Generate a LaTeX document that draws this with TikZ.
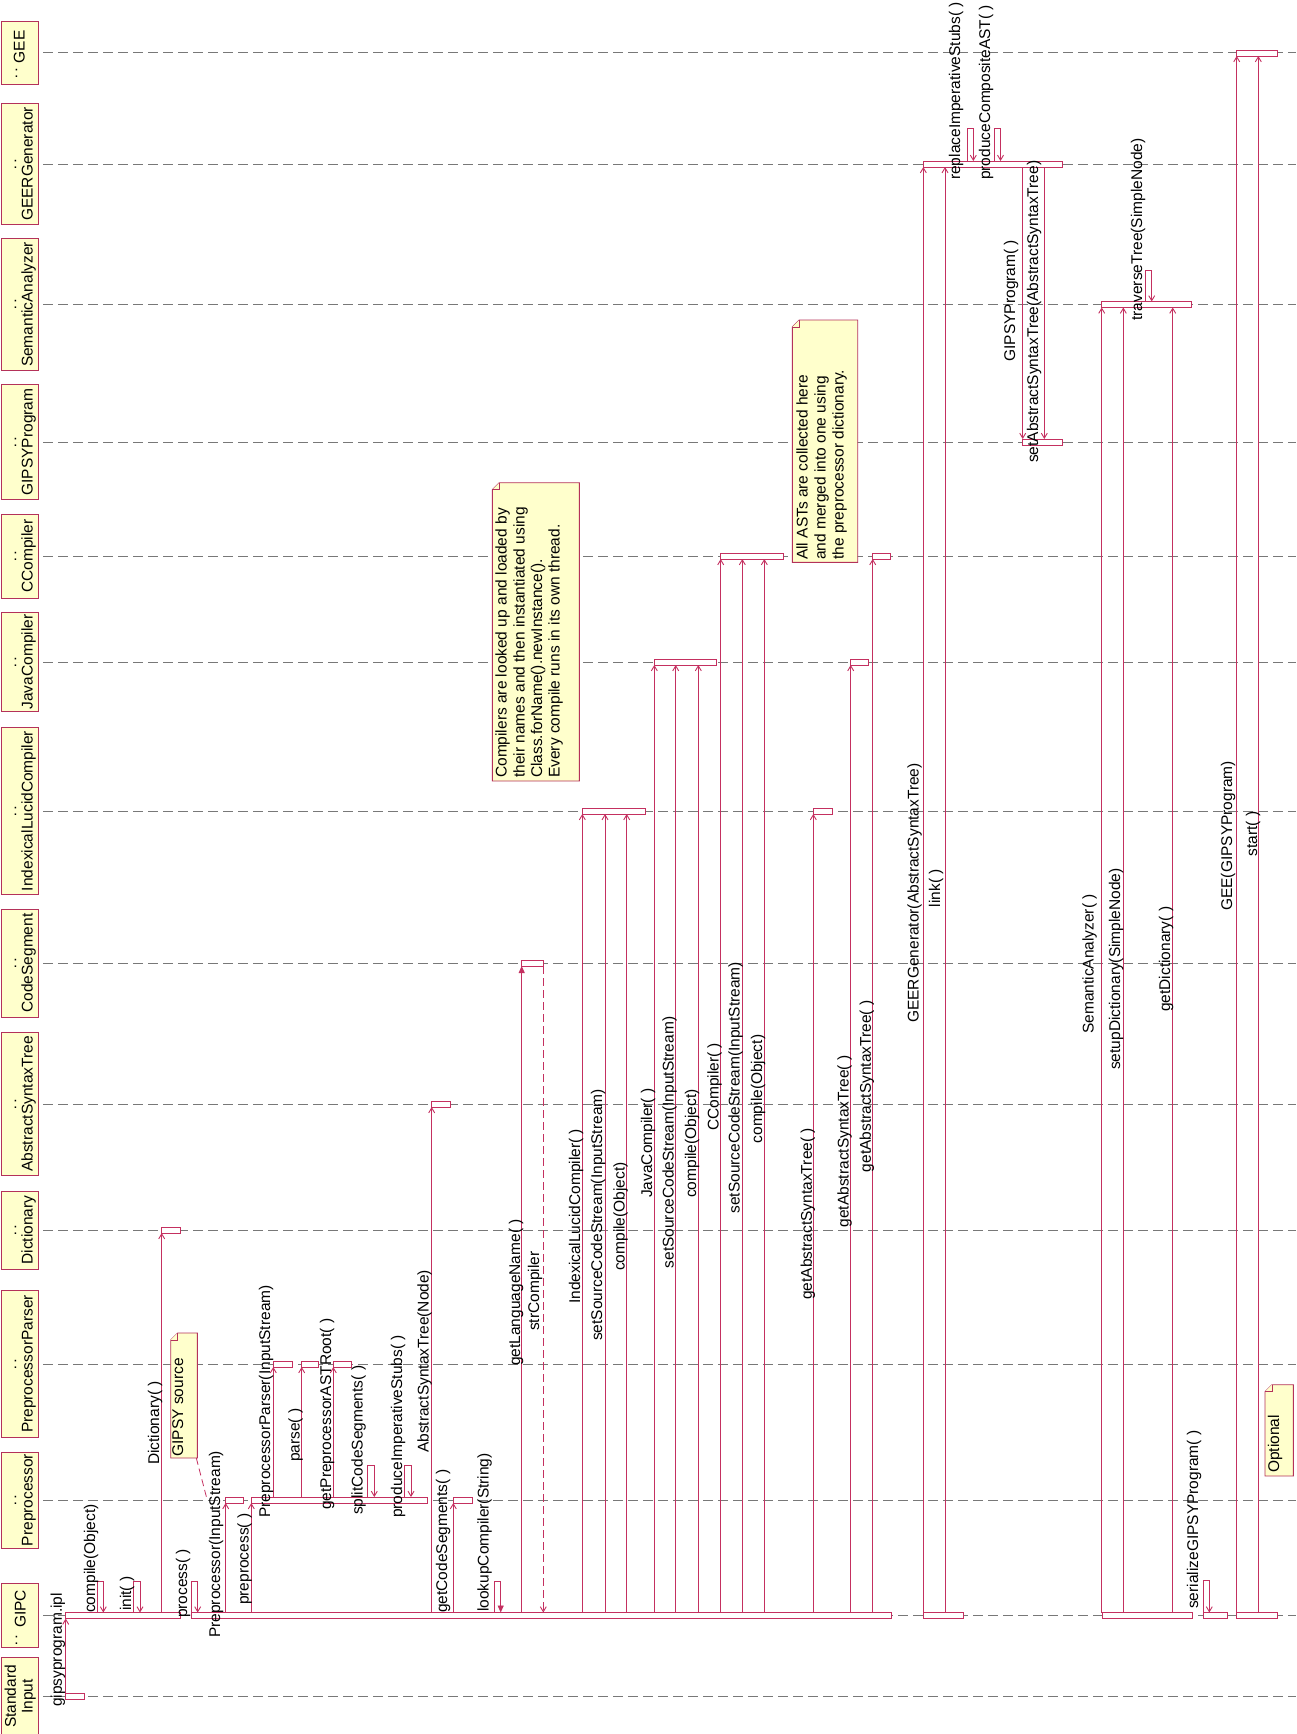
\documentclass[tikz,border=0pt]{standalone}
\usepackage{fontspec}
\setmainfont{Liberation Sans}
\usetikzlibrary{arrows.meta}
\definecolor{ln}{RGB}{196,48,96}
\definecolor{boxline}{RGB}{180,50,90}
\definecolor{notefill}{RGB}{255,255,204}
\definecolor{lifegray}{RGB}{120,120,120}
\newcommand\actbar[4]{\node[actbar,minimum width={#3pt-#2pt}] (#1) at ({(#2+#3)/2},#4) {};}
\newcommand\callup[5]{\coordinate (#1) at (#2,0); \draw[#5] (#3.north -| #1) -- (#4.south -| #1);}
\newcommand\calldown[5]{\coordinate (#1) at (#2,0); \draw[#5] (#3.south -| #1) -- (#4.north -| #1);}
\newcommand\selfcall[6]{\coordinate (#1a) at (#2,#4); \coordinate (#1b) at (#3,#4);
  \draw[#6] (#5.north -| #1a) -- (#1a) -- (#1b) -- (#5.north -| #1b);}
\newcommand\mylbl[4]{\node[lbl] (#1) at (#2,#3) {#4};}
\newcommand\notebox[5]{\path (#2,#3) coordinate (#1-nw) (#4,#5) coordinate (#1-se);
  \filldraw[note] ([xshift=7pt]#1-nw) -- (#1-nw -| #1-se) -- (#1-se) -- (#1-se -| #1-nw) -- ([yshift=-7pt]#1-nw) -- cycle;
  \draw[note] ([xshift=7pt]#1-nw) -- ++(0,-7pt) -- ([yshift=-7pt]#1-nw);}
\newcommand\objbox[3]{\node[objbox,minimum height={#3pt}] (#1) at (19.5,#2) {};
  \draw[lifeline] ([xshift=5pt]#1.east) -- (#1.east -| R);}
\newcommand\objname[3]{\node[nm] (#1-n) at (32.5,#2) {#3}; \node[colon] (#1-c) at (15.5,#2) {:};}
\begin{document}
\begin{tikzpicture}[x=1pt,y=-1pt,
  actbar/.style={draw=ln,fill=white,line width=0.9pt,minimum height=6pt,inner sep=0pt,outer sep=0pt},
  msg/.style={draw=ln,line width=0.9pt,-{Straight Barb[length=5pt,width=6pt]}},
  fmsg/.style={draw=ln,line width=0.9pt,-{Triangle[length=7pt,width=6pt]}},
  ret/.style={msg,dash pattern=on 8pt off 4pt},
  objbox/.style={draw=boxline,fill=notefill,line width=1pt,inner sep=0pt,outer sep=0pt,minimum width=37pt},
  lifeline/.style={draw=lifegray,line width=1pt,dash pattern=on 10pt off 5pt},
  note/.style={draw=boxline,fill=notefill,line width=0.9pt},
  notelink/.style={draw=ln,line width=0.8pt,dash pattern=on 7pt off 4pt},
  lbl/.style={rotate=90,anchor=base west,inner sep=0pt,font=\fontsize{15.5pt}{18pt}\selectfont},
  nm/.style={rotate=90,anchor=base,inner sep=0pt,font=\fontsize{15.5pt}{18pt}\selectfont},
  colon/.style={inner sep=0pt,font=\fontsize{15.5pt}{18pt}\selectfont}]
\useasboundingbox (0,0) rectangle (1296,1734);
\coordinate (R) at (1296,0);
% objects and lifelines
\objbox{o-gee}{53}{63}
\objbox{o-gg}{164}{121}
\objbox{o-sa}{304.5}{132}
\objbox{o-gp}{442}{115}
\objbox{o-cc}{556}{84}
\objbox{o-jc}{662}{99}
\objbox{o-ilc}{811}{167}
\objbox{o-cs}{963}{108}
\objbox{o-ast}{1104}{143}
\objbox{o-dict}{1230}{78}
\objbox{o-ppp}{1364}{147}
\objbox{o-pp}{1500}{96}
\objbox{o-gipc}{1615.5}{64}
\objbox{o-in}{1696.5}{78}
\node[lbl] (o-gee-n) at (24.5,63.5) {GEE};
\node[colon] (o-gee-c) at (16.5,73) {:};
\objname{o-gg}{164}{GEERGenerator}
\objname{o-sa}{304.5}{SemanticAnalyzer}
\objname{o-gp}{442}{GIPSYProgram}
\objname{o-cc}{556}{CCompiler}
\objname{o-jc}{662}{JavaCompiler}
\objname{o-ilc}{811}{IndexicalLucidCompiler}
\objname{o-cs}{963}{CodeSegment}
\objname{o-ast}{1104}{AbstractSyntaxTree}
\objname{o-dict}{1230}{Dictionary}
\objname{o-ppp}{1364}{PreprocessorParser}
\objname{o-pp}{1500}{Preprocessor}
\node[lbl] (o-gipc-n) at (25.5,1628) {GIPC};
\node[colon] (o-gipc-c) at (16.5,1640) {:};
\node[nm] (o-in-n1) at (16,1696.5) {Standard};
\node[nm] (o-in-n2) at (32.5,1696.5) {Input};
% activation bars
\actbar{b-in}{65.7}{84.3}{1696.5}
\actbar{b-g1}{65.7}{180}{1615.5}
\actbar{b-g2}{191}{891}{1615.5}
\actbar{b-g3}{923.3}{963}{1615.5}
\actbar{b-g4}{1102}{1192}{1615.5}
\actbar{b-g5}{1203.3}{1227}{1615.5}
\actbar{b-g6}{1236.7}{1277.3}{1615.5}
\actbar{b-dict}{161.7}{180}{1230}
\actbar{b-p1}{225.7}{243.3}{1500}
\actbar{b-p2}{251.3}{427.3}{1500}
\actbar{b-p3}{453.3}{472.3}{1500}
\actbar{b-pp1}{273.3}{292.3}{1364}
\actbar{b-pp2}{301.7}{318.3}{1364}
\actbar{b-pp3}{333.3}{351.7}{1364}
\actbar{b-ast}{431.7}{450}{1104}
\actbar{b-cs}{521.7}{543.3}{963}
\actbar{b-i1}{582.3}{645}{811}
\actbar{b-i2}{813.3}{832.3}{811}
\actbar{b-j1}{654.3}{716.7}{662}
\actbar{b-j2}{850.7}{868.3}{662}
\actbar{b-c1}{720.7}{783.3}{556}
\actbar{b-c2}{872.7}{890.7}{556}
\actbar{b-gp}{1022.7}{1062.3}{442}
\actbar{b-sa}{1101.7}{1191.7}{304.5}
\actbar{b-gg}{923.3}{1062.3}{164}
\actbar{b-gee}{1236.7}{1277.3}{53}
% messages
\callup{m1}{65.7}{b-in}{b-g1}{msg}
\callup{m2}{161.7}{b-g1}{b-dict}{msg}
\callup{m3}{225.7}{b-g2}{b-p1}{msg}
\callup{m4}{251.3}{b-g2}{b-p2}{msg}
\callup{m5}{273.3}{b-p2}{b-pp1}{msg}
\callup{m6}{301.7}{b-p2}{b-pp2}{msg}
\callup{m7}{333.3}{b-p2}{b-pp3}{msg}
\callup{m8}{431.7}{b-g2}{b-ast}{msg}
\callup{m9}{453.3}{b-g2}{b-p3}{msg}
\callup{m10}{521.7}{b-g2}{b-cs}{fmsg}
\calldown{m11}{543.3}{b-cs}{b-g2}{ret}
\callup{m12}{582.3}{b-g2}{b-i1}{msg}
\callup{m13}{605}{b-g2}{b-i1}{msg}
\callup{m14}{626.7}{b-g2}{b-i1}{msg}
\callup{m15}{654.3}{b-g2}{b-j1}{msg}
\callup{m16}{675.7}{b-g2}{b-j1}{msg}
\callup{m17}{698.3}{b-g2}{b-j1}{msg}
\callup{m18}{720.7}{b-g2}{b-c1}{msg}
\callup{m19}{742.3}{b-g2}{b-c1}{msg}
\callup{m20}{764.3}{b-g2}{b-c1}{msg}
\callup{m21}{813.3}{b-g2}{b-i2}{msg}
\callup{m22}{850.7}{b-g2}{b-j2}{msg}
\callup{m23}{872.7}{b-g2}{b-c2}{msg}
\callup{m24}{923.3}{b-g3}{b-gg}{msg}
\callup{m25}{945}{b-g3}{b-gg}{msg}
\calldown{m26}{1022.7}{b-gg}{b-gp}{msg}
\calldown{m27}{1044.3}{b-gg}{b-gp}{msg}
\callup{m28}{1101.7}{b-g4}{b-sa}{msg}
\callup{m29}{1123.3}{b-g4}{b-sa}{msg}
\callup{m30}{1172.7}{b-g4}{b-sa}{msg}
\callup{m31}{1236.7}{b-g6}{b-gee}{msg}
\callup{m32}{1258.3}{b-g6}{b-gee}{msg}
% self calls
\selfcall{s1}{97.7}{103.3}{1581}{b-g1}{msg}
\selfcall{s2}{133.3}{140}{1581}{b-g1}{msg}
\selfcall{s3}{191}{197.7}{1581}{b-g2}{msg}
\selfcall{s4}{367.7}{374.3}{1465}{b-p2}{msg}
\selfcall{s5}{404.3}{411}{1465}{b-p2}{msg}
\selfcall{s6}{494.3}{500.7}{1581}{b-g2}{fmsg}
\selfcall{s7}{967.7}{973.3}{128.5}{b-gg}{msg}
\selfcall{s8}{994.3}{1000.5}{128.5}{b-gg}{msg}
\selfcall{s9}{1145.7}{1151.7}{270}{b-sa}{msg}
\selfcall{s10}{1203.3}{1209.3}{1580}{b-g5}{msg}
% labels
\mylbl{l1}{61.8}{1707}{gipsyprogram.ipl}
\mylbl{l2}{95}{1613}{compile(Object)}
\mylbl{l3}{131}{1611}{init( )}
\mylbl{l4}{159}{1465}{Dictionary( )}
\mylbl{l5}{187}{1618}{process( )}
\mylbl{l6}{220}{1638}{Preprocessor(InputStream)}
\mylbl{l7}{248.5}{1605}{preprocess( )}
\mylbl{l8}{270}{1518}{PreprocessorParser(InputStream)}
\mylbl{l9}{299.5}{1462}{parse( )}
\mylbl{l10}{331}{1510}{getPreprocessorASTRoot( )}
\mylbl{l11}{362.5}{1515}{splitCodeSegments( )}
\mylbl{l12}{402}{1518}{produceImperativeStubs( )}
\mylbl{l13}{428.5}{1453}{AbstractSyntaxTree(Node)}
\mylbl{l14}{447}{1613}{getCodeSegments( )}
\mylbl{l15}{488.5}{1612}{lookupCompiler(String)}
\mylbl{l16}{520}{1366}{getLanguageName( )}
\mylbl{l17}{539}{1331}{strCompiler}
\mylbl{l18}{580}{1304}{IndexicalLucidCompiler( )}
\mylbl{l19}{602}{1341}{setSourceCodeStream(InputStream)}
\mylbl{l20}{624.5}{1271}{compile(Object)}
\mylbl{l21}{652}{1198}{JavaCompiler( )}
\mylbl{l22}{673.5}{1268.5}{setSourceCodeStream(InputStream)}
\mylbl{l23}{696}{1198}{compile(Object)}
\mylbl{l24}{718.5}{1131}{CCompiler( )}
\mylbl{l25}{739.5}{1213.7}{setSourceCodeStream(InputStream)}
\mylbl{l26}{762}{1143.5}{compile(Object)}
\mylbl{l27}{811.8}{1300}{getAbstractSyntaxTree( )}
\mylbl{l28}{848.5}{1227.5}{getAbstractSyntaxTree( )}
\mylbl{l29}{870.8}{1172.4}{getAbstractSyntaxTree( )}
\mylbl{l30}{918.5}{1023}{GEERGenerator(AbstractSyntaxTree)}
\mylbl{l31}{940}{907.4}{link( )}
\mylbl{l32}{960}{180}{replaceImperativeStubs( )}
\mylbl{l33}{990}{180}{produceCompositeAST( )}
\mylbl{l34}{1015}{361.6}{GIPSYProgram( )}
\mylbl{l35}{1038}{463}{setAbstractSyntaxTree(AbstractSyntaxTree)}
\mylbl{l36}{1093.5}{1034}{SemanticAnalyzer( )}
\mylbl{l37}{1120}{1070}{setupDictionary(SimpleNode)}
\mylbl{l38}{1142}{320.7}{traverseTree(SimpleNode)}
\mylbl{l39}{1170}{1012}{getDictionary( )}
\mylbl{l40}{1198}{1609}{serializeGIPSYProgram( )}
\mylbl{l41}{1232}{911}{GEE(GIPSYProgram)}
\mylbl{l42}{1257}{856.7}{start( )}
% notes
\notebox{gs}{170.7}{1333}{197.3}{1458}
\mylbl{gs-t}{183}{1456.7}{GIPSY source}
\coordinate (gs-pt) at (206.7,1498);
\draw[notelink] ([xshift=-1pt]gs-se) -- (gs-pt);
\notebox{cn}{492.3}{482.7}{579.3}{781}
\mylbl{cn-1}{506.5}{778}{Compilers are looked up and loaded by}
\mylbl{cn-2}{524.5}{778}{their names and then instantiated using}
\mylbl{cn-3}{542}{778}{Class.forName().newInstance().}
\mylbl{cn-4}{559.5}{778}{Every compile runs in its own thread.}
\notebox{an}{792.3}{320}{857.7}{562.3}
\mylbl{an-1}{807.5}{560}{All ASTs are collected here}
\mylbl{an-2}{825.5}{560}{and merged into one using}
\mylbl{an-3}{843.5}{560}{the preprocessor dictionary.}
\notebox{on}{1265}{1384.7}{1293.3}{1476}
\mylbl{on-t}{1279}{1473}{Optional}
\end{tikzpicture}
\end{document}
